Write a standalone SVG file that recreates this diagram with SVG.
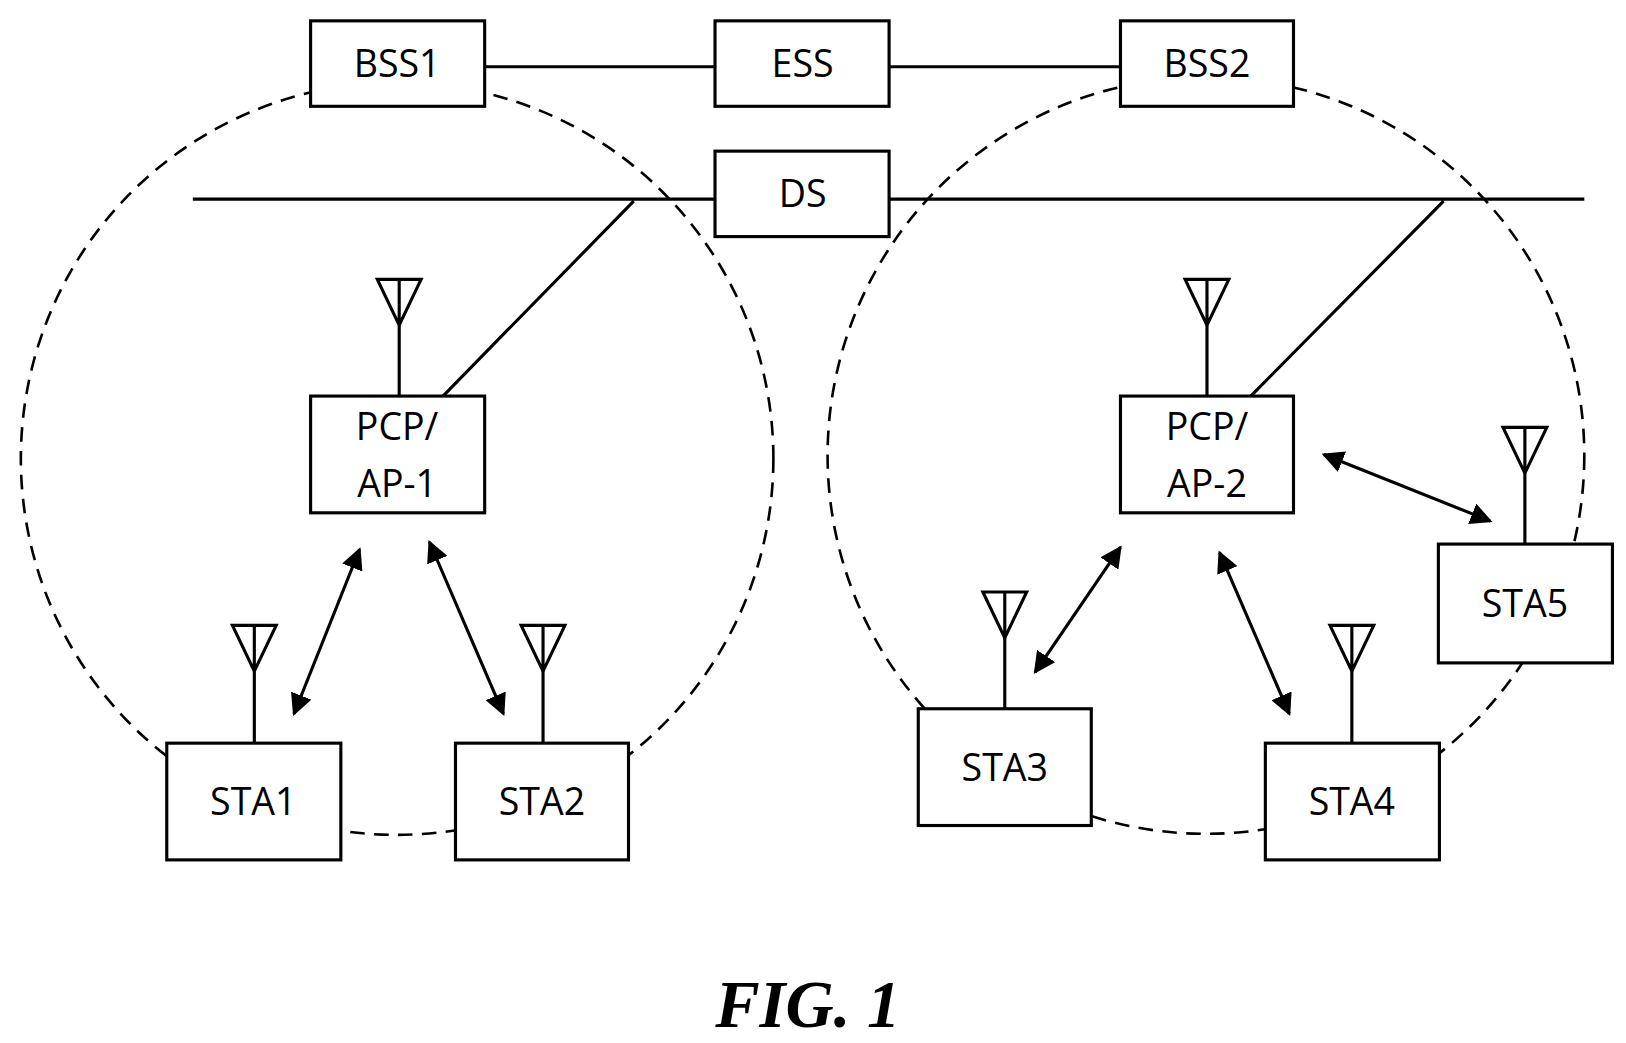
<svg xmlns="http://www.w3.org/2000/svg" width="1626" height="1043" viewBox="0 0 1626 1043">
<defs>
<marker id="ah" viewBox="0 0 10 10" refX="9" refY="5" markerWidth="7" markerHeight="7" orient="auto-start-reverse"><path d="M0,0L10,5L0,10z" fill="#000"/></marker>
<g id="ant"><path d="M-21,0H21L0,44Z M0,0V44" fill="none" stroke="#000" stroke-width="3"/></g>
</defs>
<style>
.b{fill:#fff;stroke:#000;stroke-width:3}
.t{font-family:"Open Sans","Liberation Sans",sans-serif;font-size:36px;text-anchor:middle;fill:#000}
.l{stroke:#000;stroke-width:3;fill:none}
.d{stroke:#000;stroke-width:2.5;fill:none;stroke-dasharray:14 9}
.a{stroke:#000;stroke-width:3;marker-start:url(#ah);marker-end:url(#ah)}
</style>
<rect width="1626" height="1043" fill="#fff"/>
<g transform="scale(1.0423)">
<g id="areas"><circle class="d" cx="381" cy="440" r="361"/><circle class="d" cx="1157" cy="437" r="363"/></g>
<g id="connectors">
<path class="l" d="M465,64H686 M853,64H1075 M185,191H1520 M608,193L425,380 M1385,193L1200,380"/>
<path class="l" d="M383,312V380 M1158,312V380 M244,644V713 M521,644V713 M964,612V680 M1297,644V713 M1463,454V522"/>
<line class="a" x1="345" y1="527" x2="282" y2="685"/>
<line class="a" x1="412" y1="520" x2="483" y2="685"/>
<line class="a" x1="1075" y1="525" x2="993" y2="645"/>
<line class="a" x1="1170" y1="530" x2="1237" y2="685"/>
<line class="a" x1="1270" y1="436" x2="1430" y2="500"/>
</g>
<use href="#ant" x="383" y="268"/><use href="#ant" x="1158" y="268"/><use href="#ant" x="244" y="600"/><use href="#ant" x="521" y="600"/><use href="#ant" x="964" y="568"/><use href="#ant" x="1297" y="600"/><use href="#ant" x="1463" y="410"/>
<g id="bss1"><rect class="b" x="298" y="20" width="167" height="82"/><text class="t" x="381" y="74">BSS1</text></g>
<g id="ess"><rect class="b" x="686" y="20" width="167" height="82"/><text class="t" x="770" y="74">ESS</text></g>
<g id="bss2"><rect class="b" x="1075" y="20" width="166" height="82"/><text class="t" x="1158" y="74">BSS2</text></g>
<g id="ds"><rect class="b" x="686" y="145" width="167" height="82"/><text class="t" x="770" y="199">DS</text></g>
<g id="ap1"><rect class="b" x="298" y="380" width="167" height="112"/><text class="t" x="381" y="422">PCP/</text><text class="t" x="381" y="477">AP-1</text></g>
<g id="ap2"><rect class="b" x="1075" y="380" width="166" height="112"/><text class="t" x="1158" y="422">PCP/</text><text class="t" x="1158" y="477">AP-2</text></g>
<g id="sta1"><rect class="b" x="160" y="713" width="167" height="112"/><text class="t" x="243" y="782">STA1</text></g>
<g id="sta2"><rect class="b" x="437" y="713" width="166" height="112"/><text class="t" x="520" y="782">STA2</text></g>
<g id="sta3"><rect class="b" x="881" y="680" width="166" height="112"/><text class="t" x="964" y="749">STA3</text></g>
<g id="sta4"><rect class="b" x="1214" y="713" width="167" height="112"/><text class="t" x="1297" y="782">STA4</text></g>
<g id="sta5"><rect class="b" x="1380" y="522" width="167" height="114"/><text class="t" x="1463" y="592">STA5</text></g>
<text x="775" y="985" font-family="Liberation Serif,serif" font-weight="bold" font-style="italic" font-size="64" text-anchor="middle">FIG. 1</text>
</g>
</svg>
